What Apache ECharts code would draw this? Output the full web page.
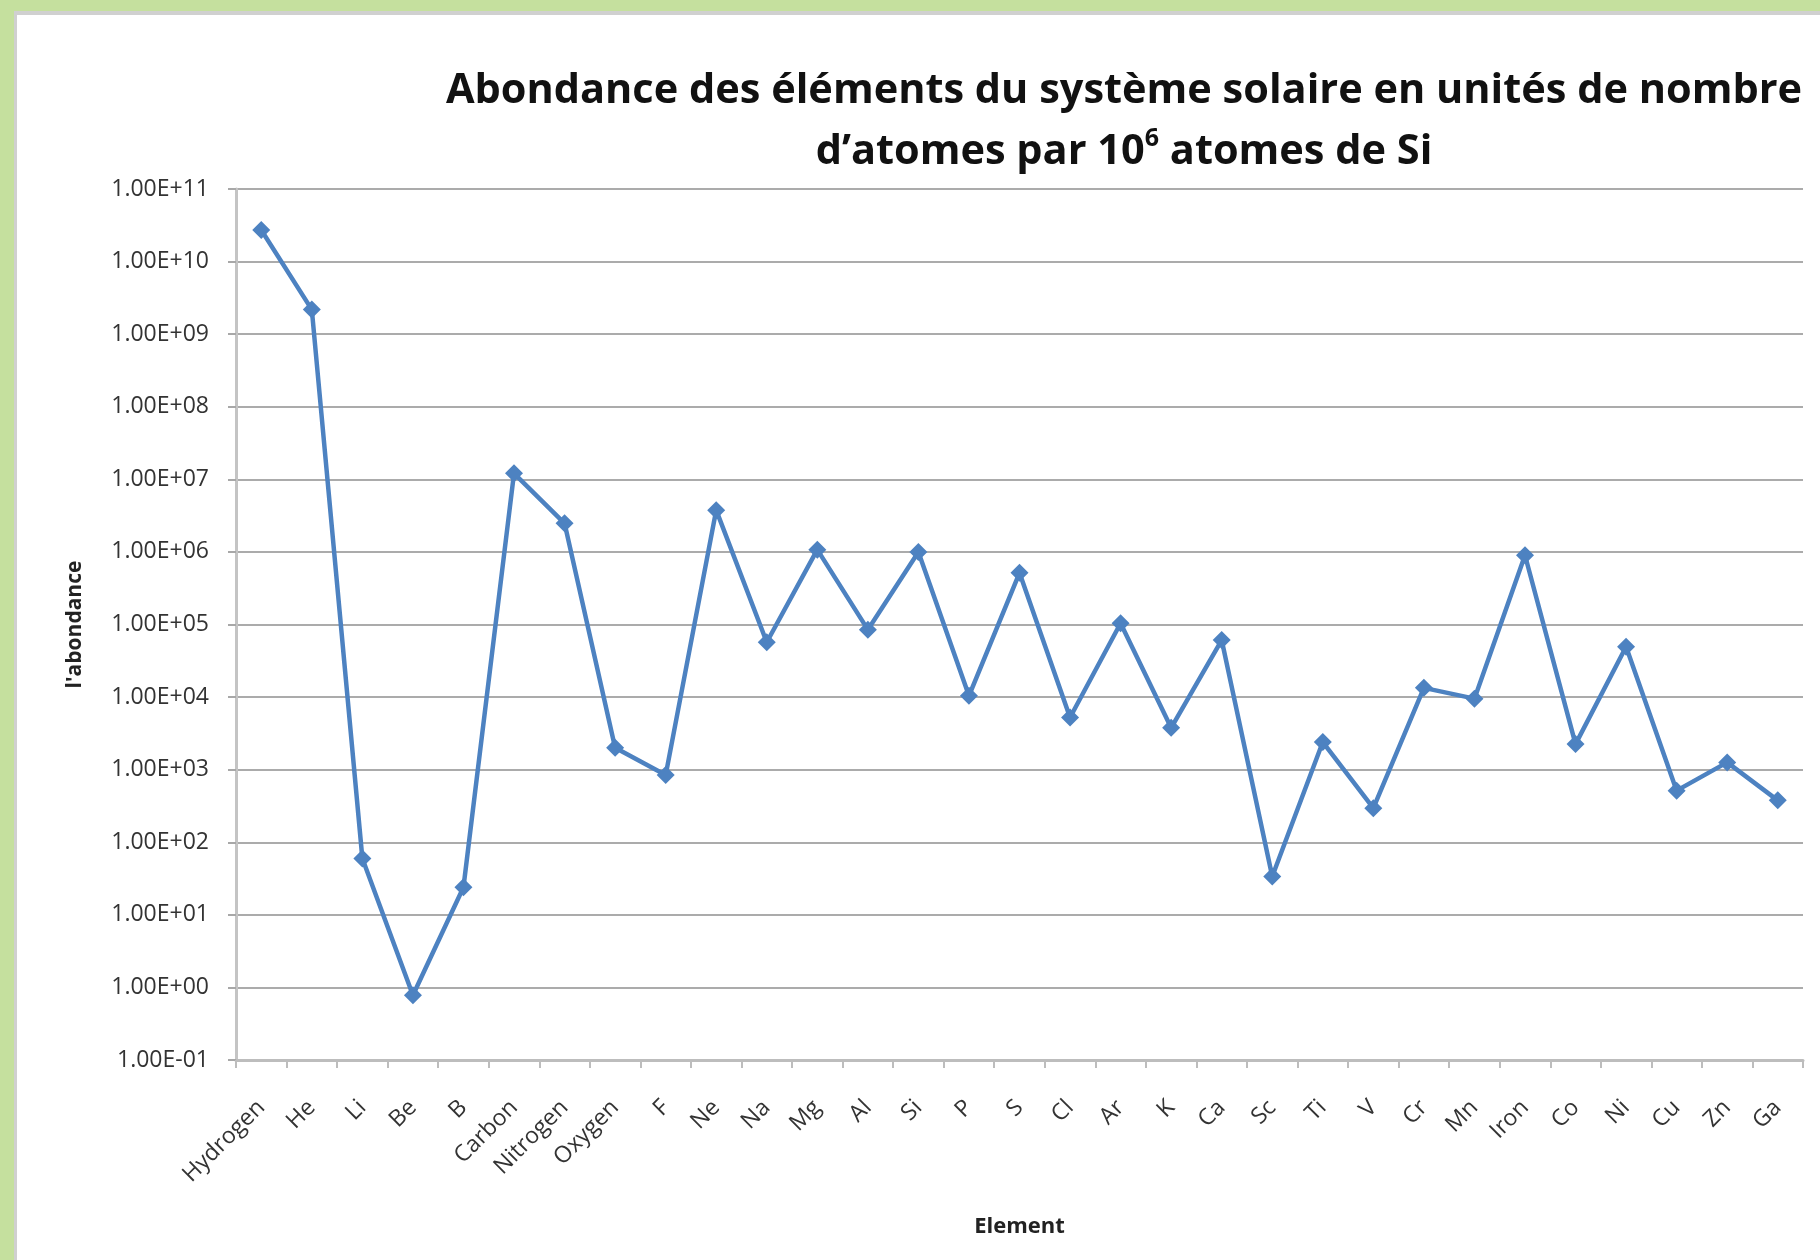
<!DOCTYPE html>
<html>
<head>
<meta charset="utf-8">
<script src="https://cdn.jsdelivr.net/npm/echarts@6/dist/echarts.min.js"></script>
<style>
  html, body { margin: 0; padding: 0; background: #fff; }
  #chart { width: 1820px; height: 1260px; }
</style>
</head>
<body>
<div id="chart"></div>
<script>
const elements = ['Hydrogen', 'He', 'Li', 'Be', 'B', 'Carbon', 'Nitrogen', 'Oxygen', 'F', 'Ne',
  'Na', 'Mg', 'Al', 'Si', 'P', 'S', 'Cl', 'Ar', 'K', 'Ca',
  'Sc', 'Ti', 'V', 'Cr', 'Mn', 'Iron', 'Co', 'Ni', 'Cu', 'Zn', 'Ga']

// abondance, atomes par 10^6 atomes de Si
const abundance = [2.72e10, 2.18e9, 59.7, 0.78, 24, 1.21e7, 2.48e6, 2010, 843, 3.76e6,
  5.7e4, 1.075e6, 8.49e4, 1.0e6, 1.04e4, 5.15e5, 5240, 1.04e5, 3770, 6.11e4,
  33.8, 2400, 295, 1.34e4, 9510, 9.0e5, 2250, 4.93e4, 514, 1260, 378]

const yMin = 0.1
const yMax = 1e11

const titleLine1 = 'Abondance des éléments du système solaire en unités de nombre'
const titleLine2 = '{t|d’atomes par 10}{s|6}{t| atomes de Si}'

const FONT = '"Open Sans", "Noto Sans", sans-serif'
const GREEN = '#c5e09e'
const BLUE = '#4d82c1'

function sciLabel(v) {
  const e = Math.round(Math.log10(v))
  const sign = e < 0 ? '-' : '+'
  const abs = Math.abs(e)
  return '1.00E' + sign + (abs < 10 ? '0' + abs : abs)
}

const chart = echarts.init(document.getElementById('chart'))
chart.setOption({
  animation: false,
  backgroundColor: '#fff',
  textStyle: { fontFamily: FONT },
  graphic: [
    { type: 'rect', shape: { x: 0, y: 0, width: 1820, height: 11 }, style: { fill: GREEN }, z: 100 },
    { type: 'rect', shape: { x: 0, y: 0, width: 14, height: 1260 }, style: { fill: GREEN }, z: 100 },
    { type: 'rect', shape: { x: 14, y: 11, width: 1806, height: 4 }, style: { fill: '#d0d0d0' }, z: 100 },
    { type: 'rect', shape: { x: 14, y: 11, width: 3, height: 1249 }, style: { fill: '#d0d0d0' }, z: 100 },
    {
      type: 'text', x: 1124, y: 91,
      style: {
        text: titleLine1, fontFamily: FONT, fontSize: 41.5, fontWeight: 'bold',
        fill: '#111', align: 'center', verticalAlign: 'middle'
      }
    },
    {
      type: 'text', x: 1124, y: 152,
      style: {
        text: titleLine2, fontFamily: FONT, fill: '#111', align: 'center', verticalAlign: 'middle',
        rich: {
          t: { fontFamily: FONT, fontSize: 41.5, fontWeight: 'bold', lineHeight: 52, fill: '#111' },
          s: { fontFamily: FONT, fontSize: 25, fontWeight: 'bold', lineHeight: 52, verticalAlign: 'top', fill: '#111', padding: [0, 0, 16, 0] }
        }
      }
    }
  ],
  grid: { left: 236, top: 189, right: 17, bottom: 200, containLabel: false },
  xAxis: {
    type: 'category',
    data: elements,
    boundaryGap: true,
    name: 'Element',
    nameLocation: 'middle',
    nameGap: 156,
    nameTextStyle: { fontSize: 22, fontWeight: 'bold', color: '#222' },
    axisLine: { lineStyle: { color: '#bdbdbd', width: 3 } },
    axisTick: { show: true, length: 8, lineStyle: { color: '#bdbdbd', width: 2 } },
    axisLabel: { interval: 0, rotate: 45, fontSize: 23, color: '#333', margin: 44 },
    splitLine: { show: false }
  },
  yAxis: {
    type: 'log',
    logBase: 10,
    min: yMin,
    max: yMax,
    interval: 1,
    name: "l'abondance",
    nameLocation: 'middle',
    nameRotate: 90,
    nameGap: 150,
    nameTextStyle: { fontSize: 21, fontWeight: 'bold', color: '#222' },
    axisLine: { show: true, lineStyle: { color: '#c4c4c4', width: 3 } },
    axisTick: { show: true, length: 8, lineStyle: { color: '#a8a8a8', width: 2 } },
    axisLabel: { fontSize: 23, color: '#333', margin: 27, formatter: sciLabel },
    splitLine: { show: true, lineStyle: { color: '#ababab', width: 2 } }
  },
  series: [{
    type: 'line',
    data: abundance,
    symbol: 'diamond',
    symbolSize: 18,
    lineStyle: { color: BLUE, width: 4.5 },
    itemStyle: { color: BLUE }
  }]
})
</script>
</body>
</html>
